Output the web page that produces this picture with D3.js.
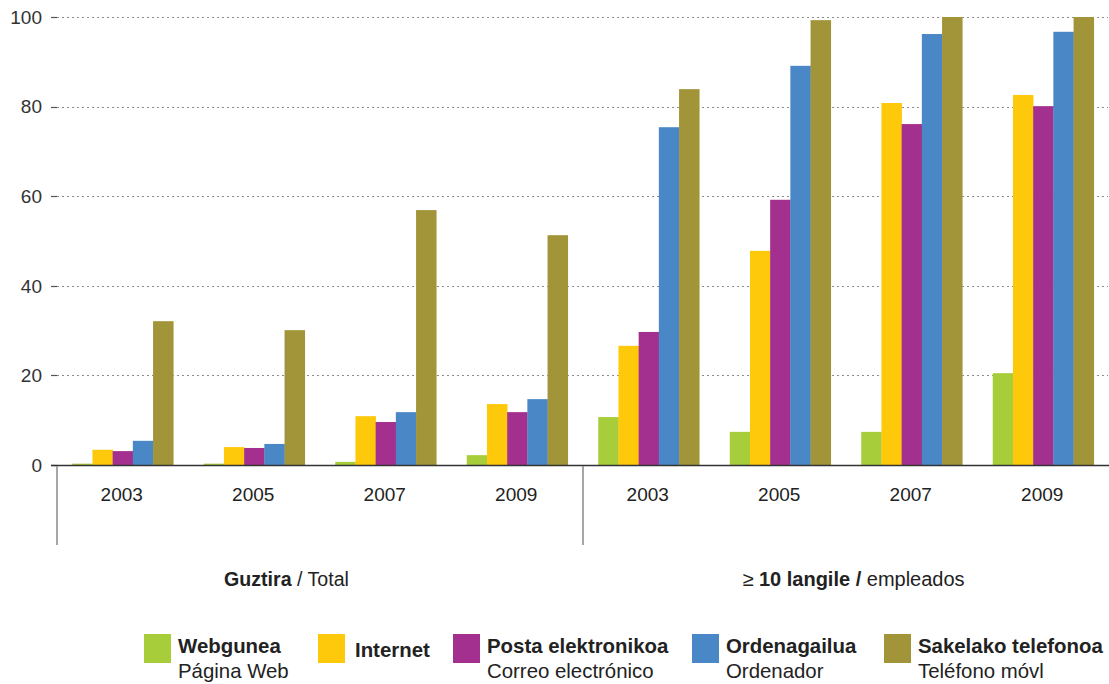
<!DOCTYPE html>
<html>
<head>
<meta charset="utf-8">
<script src="https://cdn.jsdelivr.net/npm/d3@7"></script>
<style>
  html, body { margin: 0; padding: 0; background: #fff; }
  svg { display: block; font-family: "Liberation Sans", Arial, Helvetica, sans-serif; }
</style>
</head>
<body>
<svg id="chart" width="1109" height="684"></svg>
<script>
// ---- data ----
const years = ["2003", "2005", "2007", "2009"];
const groups = ["Guztira", "Langile10"];
const seriesNames = ["Webgunea", "Internet", "Posta elektronikoa", "Ordenagailua", "Sakelako telefonoa"];
const seriesSub = ["Página Web", "", "Correo electrónico", "Ordenador", "Teléfono móvl"];
const seriesColors = ["#a8cd3b", "#fec90b", "#a3308e", "#4a87c6", "#a29539"];
const webgunea     = [0.3, 0.3, 0.7, 2.2, 10.7, 7.4, 7.4, 20.5];
const internet     = [3.4, 4.0, 10.9, 13.6, 26.6, 47.8, 80.8, 82.6];
const posta        = [3.1, 3.8, 9.6, 11.8, 29.7, 59.2, 76.1, 80.1];
const ordenagailua = [5.4, 4.7, 11.8, 14.7, 75.4, 89.1, 96.2, 96.7];
const sakelako     = [32.1, 30.1, 56.9, 51.3, 83.9, 99.3, 100, 100];
const yTicks = [0, 20, 40, 60, 80, 100];

const seriesValues = [webgunea, internet, posta, ordenagailua, sakelako];
const keys = [];
groups.forEach(g => years.forEach(y => keys.push(g + "-" + y)));

// ---- scales ----
const svg = d3.select("#chart");
const x = d3.scaleBand().domain(keys).range([57, 1109]).paddingInner(0).paddingOuter(0);
const xs = d3.scaleBand().domain(d3.range(seriesNames.length)).range([0, x.bandwidth()]).paddingInner(0).paddingOuter(0.755);
const y = d3.scaleLinear().domain([0, 100]).range([465, 17]);

// ---- gridlines ----
svg.append("g").selectAll("line").data(yTicks.filter(d => d > 0)).join("line")
  .attr("x1", 57).attr("x2", 1108)
  .attr("y1", d => Math.round(y(d)) + 0.5).attr("y2", d => Math.round(y(d)) + 0.5)
  .attr("stroke", "#8a8a8a").attr("stroke-width", 1).attr("stroke-dasharray", "2,3");

// ---- y axis ticks ----
const yAxis = svg.append("g");
yAxis.selectAll("line").data(yTicks).join("line")
  .attr("x1", 51).attr("x2", 57)
  .attr("y1", d => Math.round(y(d)) + 0.5).attr("y2", d => Math.round(y(d)) + 0.5)
  .attr("stroke", "#555").attr("stroke-width", 1.2);
yAxis.selectAll("text").data(yTicks).join("text")
  .attr("x", 42).attr("y", d => y(d)).attr("dy", "0.36em")
  .attr("text-anchor", "end").attr("font-size", 19).attr("fill", "#333")
  .text(d => d);

// ---- bars ----
const barG = svg.append("g");
seriesValues.forEach((vals, si) => {
  barG.append("g").attr("fill", seriesColors[si])
    .selectAll("rect").data(vals).join("rect")
    .attr("x", (d, i) => x(keys[i]) + xs(si))
    .attr("width", xs.bandwidth() + 0.3)
    .attr("y", d => y(d))
    .attr("height", d => y(0) - y(d));
});

// ---- baseline & separators ----
svg.append("line").attr("x1", 51).attr("x2", 1109).attr("y1", 465.5).attr("y2", 465.5)
  .attr("stroke", "#333").attr("stroke-width", 1.6);
[x(keys[0]), x(keys[4])].forEach(sx => {
  svg.append("line").attr("x1", sx).attr("x2", sx).attr("y1", 466).attr("y2", 545)
    .attr("stroke", "#888").attr("stroke-width", 1.5);
});

// ---- year labels ----
svg.append("g").selectAll("text").data(keys).join("text")
  .attr("x", d => x(d) + x.bandwidth() / 2 - 1).attr("y", 501)
  .attr("text-anchor", "middle").attr("font-size", 19).attr("fill", "#222")
  .text(d => d.split("-")[1]);

// ---- group labels ----
const g1 = svg.append("text").attr("x", 286.5).attr("y", 586).attr("text-anchor", "middle")
  .attr("font-size", 19.6).attr("fill", "#222");
g1.append("tspan").attr("font-weight", "bold").text("Guztira");
g1.append("tspan").text(" / Total");
const g2 = svg.append("text").attr("x", 853.5).attr("y", 586).attr("text-anchor", "middle")
  .attr("font-size", 20).attr("fill", "#222");
g2.append("tspan").text("≥ ");
g2.append("tspan").attr("font-weight", "bold").text("10 langile /");
g2.append("tspan").text(" empleados");

// ---- legend ----
const legendX = [144, 318, 453, 692, 884];
const legend = svg.append("g");
seriesNames.forEach((name, i) => {
  const lx = legendX[i];
  legend.append("rect").attr("x", lx).attr("y", 634).attr("width", 27).attr("height", 29)
    .attr("fill", seriesColors[i]);
  const hasSub = seriesSub[i] !== "";
  legend.append("text").attr("x", lx + 34 + (hasSub ? 0 : 3)).attr("y", hasSub ? 653 : 657)
    .attr("font-size", 20.4).attr("font-weight", "bold").attr("fill", "#222").text(name);
  if (hasSub) {
    legend.append("text").attr("x", lx + 34).attr("y", 678)
      .attr("font-size", 20.4).attr("fill", "#222").text(seriesSub[i]);
  }
});
</script>
</body>
</html>
